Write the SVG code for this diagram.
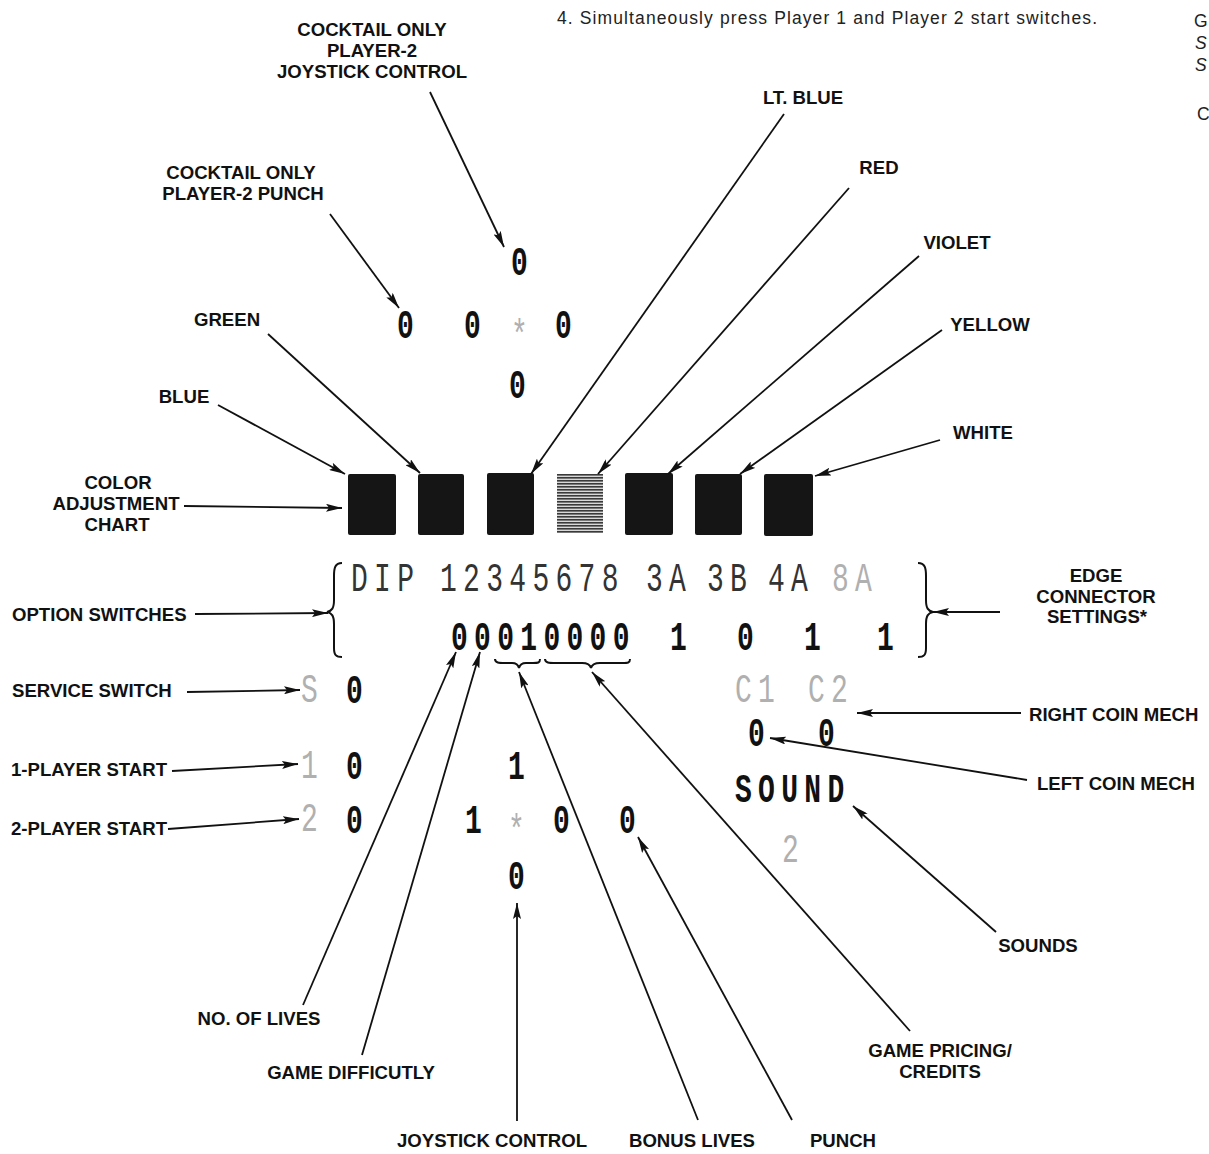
<svg xmlns="http://www.w3.org/2000/svg" width="1209" height="1154" viewBox="0 0 1209 1154">
<defs>
<style>
.lbl{font-family:"Liberation Sans",Arial,sans-serif;font-weight:bold;font-size:18.6px;fill:#111}
.mid{text-anchor:middle}
.body{font-family:"Liberation Sans",Arial,sans-serif;font-size:17.5px;fill:#222}
.lcd{font-family:"Liberation Mono","Courier New",monospace;font-size:28px;letter-spacing:6.3px;fill:#333}
.lcdb{font-family:"Liberation Mono","Courier New",monospace;font-size:28px;font-weight:bold;letter-spacing:6.3px;fill:#111}
.dim{fill:#b0b0b0}
.ln{stroke:#111;stroke-width:1.8;fill:none}
.br{stroke:#111;stroke-width:2;fill:none}
.box{fill:#151515}
</style>
<marker id="ah" markerUnits="userSpaceOnUse" markerWidth="17" markerHeight="8" refX="16" refY="4" orient="auto">
<path d="M0,0 L16,4 L0,8 L3,4 z" fill="#111"/>
</marker>
<pattern id="stripe" patternUnits="userSpaceOnUse" width="6" height="3">
<rect width="6" height="3" fill="#d8d8d8"/>
<rect width="6" height="1.6" fill="#3a3a3a"/>
</pattern>
</defs>
<rect width="1209" height="1154" fill="#fff"/>

<g id="page-text">
<text class="body" x="557" y="24" textLength="540">4. Simultaneously press Player 1 and Player 2 start switches.</text>
<text class="body" x="1194" y="27">G</text>
<text class="body" x="1195" y="49" font-style="italic">S</text>
<text class="body" x="1195" y="71" font-style="italic">S</text>
<text class="body" x="1197" y="120">C</text>
</g>

<g id="label-cocktail-joystick"><text class="lbl mid" x="372" y="36">COCKTAIL ONLY</text><text class="lbl mid" x="372" y="57">PLAYER-2</text><text class="lbl mid" x="372" y="78">JOYSTICK CONTROL</text></g>
<g id="label-cocktail-punch"><text class="lbl mid" x="241" y="179">COCKTAIL ONLY</text><text class="lbl mid" x="243" y="200">PLAYER-2 PUNCH</text></g>
<g id="label-ltblue"><text class="lbl mid" x="803" y="104">LT. BLUE</text></g>
<g id="label-red"><text class="lbl mid" x="879" y="174">RED</text></g>
<g id="label-violet"><text class="lbl mid" x="957" y="249">VIOLET</text></g>
<g id="label-yellow"><text class="lbl mid" x="990" y="331">YELLOW</text></g>
<g id="label-white"><text class="lbl mid" x="983" y="439">WHITE</text></g>
<g id="label-green"><text class="lbl mid" x="227" y="326">GREEN</text></g>
<g id="label-blue"><text class="lbl mid" x="184" y="403">BLUE</text></g>
<g id="label-color-chart"><text class="lbl mid" x="118" y="489">COLOR</text><text class="lbl mid" x="116" y="510">ADJUSTMENT</text><text class="lbl mid" x="117" y="531">CHART</text></g>
<g id="label-option"><text class="lbl" x="12" y="621">OPTION SWITCHES</text></g>
<g id="label-edge"><text class="lbl mid" x="1096" y="582">EDGE</text><text class="lbl mid" x="1096" y="603">CONNECTOR</text><text class="lbl mid" x="1097" y="623">SETTINGS*</text></g>
<g id="label-service"><text class="lbl" x="12" y="697">SERVICE SWITCH</text></g>
<g id="label-1p"><text class="lbl" x="11" y="776">1-PLAYER START</text></g>
<g id="label-2p"><text class="lbl" x="11" y="835">2-PLAYER START</text></g>
<g id="label-right-coin"><text class="lbl" x="1029" y="721">RIGHT COIN MECH</text></g>
<g id="label-left-coin"><text class="lbl" x="1037" y="790">LEFT COIN MECH</text></g>
<g id="label-sounds"><text class="lbl mid" x="1038" y="952">SOUNDS</text></g>
<g id="label-lives"><text class="lbl mid" x="259" y="1025">NO. OF LIVES</text></g>
<g id="label-difficulty"><text class="lbl mid" x="351" y="1079">GAME DIFFICUTLY</text></g>
<g id="label-pricing"><text class="lbl mid" x="940" y="1057">GAME PRICING/</text><text class="lbl mid" x="940" y="1078">CREDITS</text></g>
<g id="label-joystick"><text class="lbl mid" x="492" y="1147">JOYSTICK CONTROL</text></g>
<g id="label-bonus"><text class="lbl mid" x="692" y="1147">BONUS LIVES</text></g>
<g id="label-punch"><text class="lbl mid" x="843" y="1147">PUNCH</text></g>

<g id="color-chart">
<rect class="box" x="348" y="474" width="48" height="61" rx="2"/>
<rect class="box" x="418" y="474" width="46" height="61" rx="2"/>
<rect class="box" x="487" y="473" width="47" height="62" rx="2"/>
<rect x="557" y="474" width="46" height="59" fill="url(#stripe)"/>
<rect class="box" x="625" y="473" width="48" height="62" rx="2"/>
<rect class="box" x="695" y="474" width="47" height="61" rx="2"/>
<rect class="box" x="764" y="474" width="49" height="62" rx="2"/>
</g>

<g id="cocktail-display">
<text class="lcdb" transform="translate(511,275) scale(1,1.45)">0</text>
<text class="lcdb" transform="translate(397,338) scale(1,1.45)">0</text>
<text class="lcdb" transform="translate(464,338) scale(1,1.45)">0</text>
<text class="lcd dim" transform="translate(511,348) scale(1,1.45)">*</text>
<text class="lcdb" transform="translate(555,338) scale(1,1.45)">0</text>
<text class="lcdb" transform="translate(509,398) scale(1,1.45)">0</text>
</g>

<g id="dip-display">
<text class="lcd" transform="translate(351,591) scale(1,1.45)">DIP</text>
<text class="lcd" transform="translate(440,591) scale(1,1.45)">12345678</text>
<text class="lcd" transform="translate(646,591) scale(1,1.45)">3A</text>
<text class="lcd" transform="translate(707,591) scale(1,1.45)">3B</text>
<text class="lcd" transform="translate(768,591) scale(1,1.45)">4A</text>
<text class="lcd dim" transform="translate(832,591) scale(1,1.45)">8A</text>
<text class="lcdb" transform="translate(451,650) scale(1,1.45)">00010000</text>
<text class="lcdb" transform="translate(670,650) scale(1,1.45)">1</text>
<text class="lcdb" transform="translate(737,650) scale(1,1.45)">0</text>
<text class="lcdb" transform="translate(804,650) scale(1,1.45)">1</text>
<text class="lcdb" transform="translate(877,650) scale(1,1.45)">1</text>
<path class="br" d="M342,563 C335,563 334,568 334,576 L334,600 C334,608 332,611 327,612 C332,613 334,616 334,624 L334,648 C334,655 336,657 342,657"/>
<path class="br" d="M918,563 C925,563 926,568 926,576 L926,600 C926,608 928,611 933,612 C928,613 926,616 926,624 L926,648 C926,655 924,657 918,657"/>
<path class="br" d="M495,659 C495,663 499,663 505,663 L512,663 C516,663 518,664 519,668 C520,664 522,663 526,663 L533,663 C538,663 540,663 540,659"/>
<path class="br" d="M545,659 C545,663 549,663 556,663 L582,663 C587,663 590,664 591,668 C592,664 595,663 600,663 L622,663 C628,663 630,663 630,659"/>
</g>

<g id="switch-display">
<text class="lcd dim" transform="translate(301,702) scale(1,1.45)">S</text>
<text class="lcdb" transform="translate(346,703) scale(1,1.45)">0</text>
<text class="lcd dim" transform="translate(301,778) scale(1,1.45)">1</text>
<text class="lcdb" transform="translate(346,779) scale(1,1.45)">0</text>
<text class="lcd dim" transform="translate(301,831) scale(1,1.45)">2</text>
<text class="lcdb" transform="translate(346,833) scale(1,1.45)">0</text>
<text class="lcdb" transform="translate(508,779) scale(1,1.45)">1</text>
<text class="lcdb" transform="translate(465,833) scale(1,1.45)">1</text>
<text class="lcd dim" transform="translate(508,843) scale(1,1.45)">*</text>
<text class="lcdb" transform="translate(553,833) scale(1,1.45)">0</text>
<text class="lcdb" transform="translate(619,833) scale(1,1.45)">0</text>
<text class="lcdb" transform="translate(508,889) scale(1,1.45)">0</text>
</g>

<g id="coin-sound-display">
<text class="lcd dim" transform="translate(735,702) scale(1,1.45)">C1</text>
<text class="lcd dim" transform="translate(808,702) scale(1,1.45)">C2</text>
<text class="lcdb" transform="translate(748,746) scale(1,1.45)">0</text>
<text class="lcdb" transform="translate(818,746) scale(1,1.45)">0</text>
<text class="lcdb" transform="translate(735,802) scale(1,1.45)">SOUND</text>
<text class="lcd dim" transform="translate(782,862) scale(1,1.45)">2</text>
</g>

<g id="connectors">
<line class="ln" x1="430" y1="92" x2="504" y2="247" marker-end="url(#ah)"/>
<line class="ln" x1="330" y1="214" x2="399" y2="308" marker-end="url(#ah)"/>
<line class="ln" x1="784" y1="114" x2="531" y2="474" marker-end="url(#ah)"/>
<line class="ln" x1="849" y1="188" x2="598" y2="474" marker-end="url(#ah)"/>
<line class="ln" x1="919" y1="256" x2="668" y2="474" marker-end="url(#ah)"/>
<line class="ln" x1="942" y1="330" x2="740" y2="474" marker-end="url(#ah)"/>
<line class="ln" x1="940" y1="440" x2="815" y2="476" marker-end="url(#ah)"/>
<line class="ln" x1="268" y1="334" x2="420" y2="473" marker-end="url(#ah)"/>
<line class="ln" x1="218" y1="405" x2="345" y2="474" marker-end="url(#ah)"/>
<line class="ln" x1="184" y1="506" x2="342" y2="508" marker-end="url(#ah)"/>
<line class="ln" x1="195" y1="614" x2="328" y2="613" marker-end="url(#ah)"/>
<line class="ln" x1="1000" y1="612" x2="933" y2="612" marker-end="url(#ah)"/>
<line class="ln" x1="187" y1="692" x2="300" y2="690" marker-end="url(#ah)"/>
<line class="ln" x1="172" y1="771" x2="298" y2="764" marker-end="url(#ah)"/>
<line class="ln" x1="168" y1="829" x2="299" y2="819" marker-end="url(#ah)"/>
<line class="ln" x1="1021" y1="713" x2="857" y2="713" marker-end="url(#ah)"/>
<line class="ln" x1="1027" y1="780" x2="770" y2="738" marker-end="url(#ah)"/>
<line class="ln" x1="996" y1="932" x2="853" y2="806" marker-end="url(#ah)"/>
<line class="ln" x1="303" y1="1005" x2="456" y2="652" marker-end="url(#ah)"/>
<line class="ln" x1="362" y1="1055" x2="480" y2="652" marker-end="url(#ah)"/>
<line class="ln" x1="517" y1="1121" x2="517" y2="903" marker-end="url(#ah)"/>
<line class="ln" x1="698" y1="1120" x2="519" y2="672" marker-end="url(#ah)"/>
<line class="ln" x1="792" y1="1120" x2="638" y2="837" marker-end="url(#ah)"/>
<line class="ln" x1="910" y1="1031" x2="592" y2="672" marker-end="url(#ah)"/>
</g>
</svg>
